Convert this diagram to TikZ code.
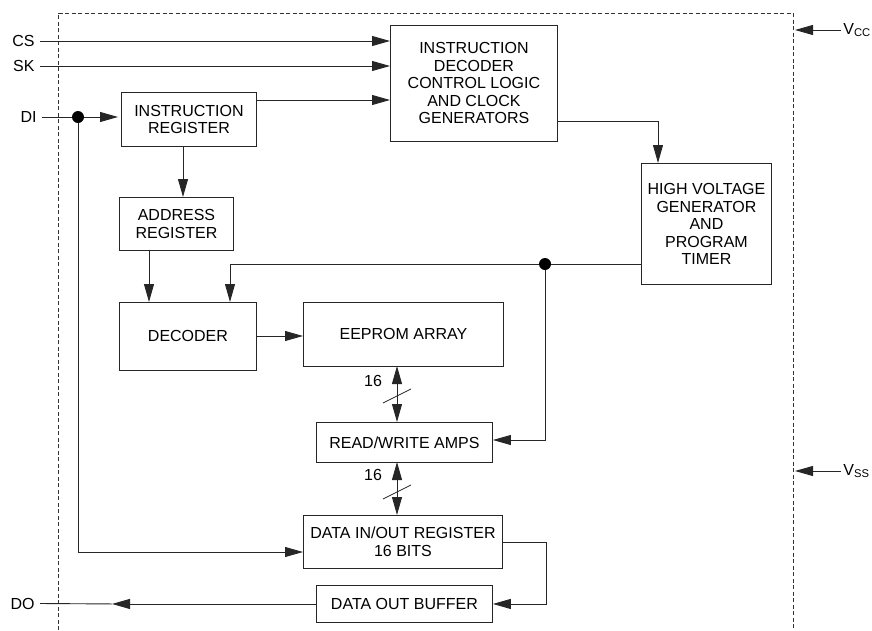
\documentclass[tikz,border=0pt]{standalone}
\usepackage{fontspec}
\setmainfont{Liberation Sans}
\usetikzlibrary{arrows.meta,calc}
\begin{document}
\begin{tikzpicture}[x=1pt,y=-1pt,
  line width=0.9pt, draw=black!85,
  box/.style={draw=black!85, line width=0.9pt, inner sep=0pt, align=center, anchor=north west,
    font=\fontsize{16}{17.5}\selectfont},
  lbl/.style={inner sep=0pt, font=\fontsize{16}{17.5}\selectfont},
  arr/.style={-{Triangle[length=18pt,width=10pt]}},
  barr/.style={{Triangle[length=18pt,width=10pt]}-{Triangle[length=18pt,width=10pt]}},
  dot/.style={circle, fill=black, inner sep=0pt, minimum size=12pt}]
\useasboundingbox (0,0) rectangle (872,630);
% dashed package outline
\draw[black!80, line width=0.7pt, dash pattern=on 4pt off 2.5pt] (58,630) -- (58,13) -- (793,13) -- (793,630);
% blocks
\node[box, minimum width=167pt, minimum height=116pt] (idec) at (390,25) {INSTRUCTION\\DECODER\\CONTROL LOGIC\\AND CLOCK\\GENERATORS};
\node[box, minimum width=135pt, minimum height=54pt] (ir) at (121,92) {INSTRUCTION\\REGISTER};
\node[box, minimum width=130pt, minimum height=121pt] (hv) at (641,163) {HIGH VOLTAGE\\GENERATOR\\AND\\PROGRAM\\TIMER};
\node[box, minimum width=114pt, minimum height=53pt] (addr) at (119,197) {ADDRESS\\REGISTER};
\node[box, minimum width=137pt, minimum height=68pt] (dec) at (119,302) {DECODER};
\node[box, minimum width=200pt, minimum height=64pt] (eep) at (303,302) {EEPROM ARRAY};
\node[box, minimum width=176pt, minimum height=40pt] (rw) at (316,422) {READ/WRITE AMPS};
\node[box, minimum width=199pt, minimum height=53pt] (dio) at (303,515) {DATA IN/OUT REGISTER\\16 BITS};
\node[box, minimum width=176pt, minimum height=37pt] (dob) at (316,585) {DATA OUT BUFFER};
% pins
\node[lbl, anchor=east] (cs) at (35,41) {CS};
\node[lbl, anchor=east] (sk) at (35,66) {SK};
\node[lbl, anchor=east] (di) at (37,117) {DI};
\node[lbl, anchor=east] (do) at (35,603.5) {DO};
\node[lbl, anchor=west] (vcc) at (843,30) {V\textsubscript{CC}};
\node[lbl, anchor=west] (vss) at (843,471) {V\textsubscript{SS}};
\coordinate (vccend) at (795,30);
\coordinate (vssend) at (795,471);
\draw[arr] ([xshift=-2pt]vcc.west) -- (vccend);
\draw[arr] ([xshift=-2pt]vss.west) -- (vssend);
% CS, SK
\draw[arr] ([xshift=5pt]cs.east) -- (cs.east -| idec.west);
\draw[arr] ([xshift=5pt]sk.east) -- (sk.east -| idec.west);
% DI
\node[dot] (didot) at (78,117) {};
\draw ([xshift=5pt]di.east) -- (didot);
\draw[arr] (didot) -- ([xshift=-3pt]didot -| ir.west);
\coordinate (dicorner) at (78,552);
\draw[arr] (didot) -- (dicorner) -- (dicorner -| dio.west);
% IR -> decoder
\coordinate (irout) at (256,100);
\draw[arr] (irout) -- (irout -| idec.west);
% IR -> address
\coordinate (irdown) at (183,146);
\draw[arr] (irdown) -- (irdown |- addr.north);
% address -> decoder
\coordinate (addown) at (149,250);
\draw[arr] (addown) -- (addown |- dec.north);
% idec -> HV
\coordinate (idout) at (557,121);
\coordinate (hvin) at (658,121);
\draw[arr] (idout) -- (hvin) -- (hvin |- hv.north);
% HV -> decoder, R/W
\node[dot] (hvdot) at (545,264) {};
\coordinate (hvturn) at (230,264);
\draw (hv.west |- hvdot) -- (hvdot);
\draw[arr] (hvdot) -- (hvturn) -- (hvturn |- dec.north);
\coordinate (rwturn) at (545,440);
\draw[arr] (hvdot) -- (rwturn) -- (rwturn -| rw.east);
% decoder -> EEPROM
\coordinate (decout) at (256,336);
\draw[arr] (decout) -- (decout -| eep.west);
% buses
\coordinate (b1) at (397,366);
\draw[barr] (b1) -- (b1 |- rw.north);
\draw[line width=0.7pt] (383,403) -- (411,389);
\node[lbl] (n1) at (373,381) {16};
\coordinate (b2) at (397,462);
\draw[barr] (b2) -- (b2 |- dio.north);
\draw[line width=0.7pt] (383,499) -- (411,485);
\node[lbl] (n2) at (373,475) {16};
% DIO -> DOB
\coordinate (dioout) at (502,542);
\coordinate (dioturn) at (546,542);
\draw[arr] (dioout) -- (dioturn) -- (dioturn |- dob.east) -- (dob.east);
% DOB -> DO
\path (dob.west) ++(-204,0) coordinate (dotip);
\draw[arr] (dob.west) -- (dotip);
\draw (dotip) -- ([xshift=5pt]do.east);
\end{tikzpicture}
\end{document}
